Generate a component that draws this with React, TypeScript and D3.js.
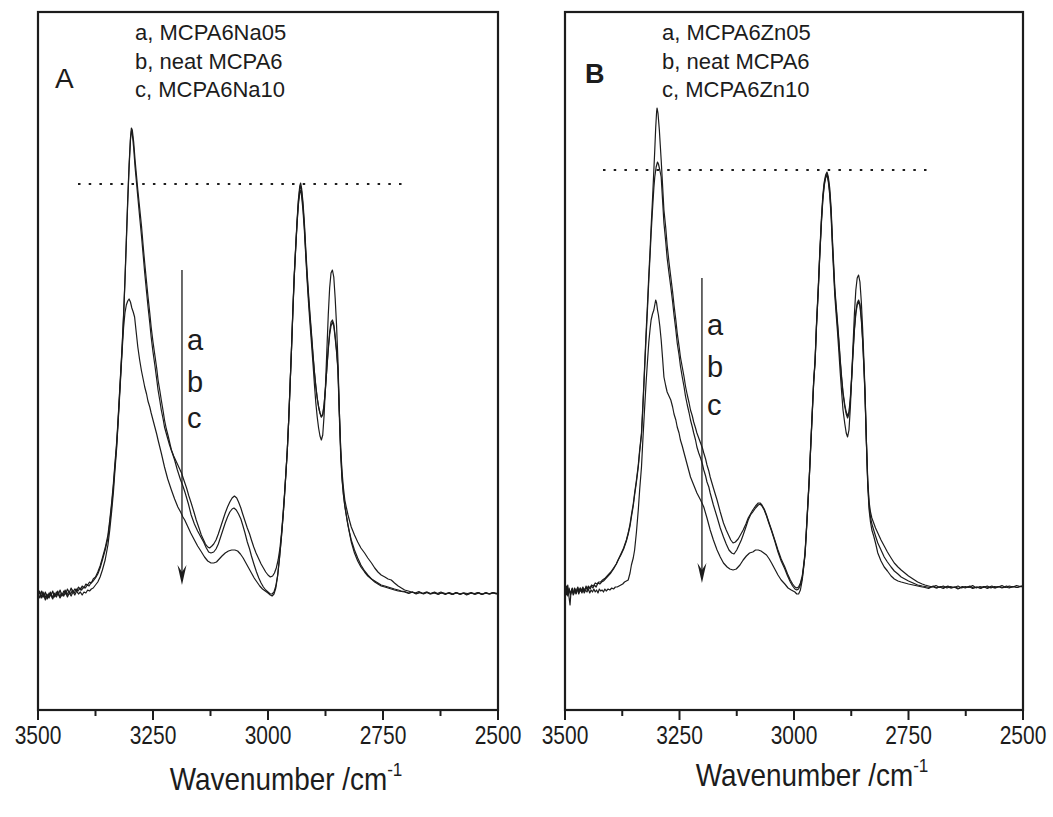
import React from 'react';
import * as d3 from 'd3';

type P = [number, number];

// ---------- data (wavenumber cm^-1, absorbance a.u.) ----------
const xTicksMajor = [3500, 3250, 3000, 2750, 2500];
const xTicksMinor = [3375, 3125, 2875, 2625];

const legendA = ['a, MCPA6Na05', 'b, neat MCPA6', 'c, MCPA6Na10'];
const legendB = ['a, MCPA6Zn05', 'b, neat MCPA6', 'c, MCPA6Zn10'];

const naA: P[] = [[3500,1.17],[3496,1.12],[3492,1.19],[3488,1.13],[3484,1.18],[3480,1.11],[3476,1.17],[3472,1.14],[3468,1.19],[3464,1.13],[3460,1.18],[3456,1.15],[3452,1.2],[3448,1.14],[3444,1.19],[3440,1.16],[3436,1.21],[3432,1.17],[3428,1.22],[3424,1.18],[3420,1.21],[3416,1.19],[3412,1.23],[3408,1.2],[3404,1.24],[3400,1.22],[3396,1.26],[3392,1.25],[3388,1.28],[3384,1.27],[3380,1.31],[3375,1.33],[3370,1.38],[3365,1.44],[3360,1.52],[3354,1.62],[3348,1.75],[3344,1.9],[3340,2.07],[3336,2.27],[3333,2.45],[3329,2.68],[3326,2.9],[3323,3.15],[3320,3.4],[3317,3.65],[3314,3.95],[3311,4.3],[3308,4.7],[3305,5.1],[3302,5.45],[3299,5.72],[3297,5.82],[3295,5.8],[3292,5.68],[3289,5.5],[3286,5.35],[3283,5.2],[3279,5.02],[3275,4.84],[3271,4.62],[3268,4.47],[3264,4.28],[3261,4.14],[3257,3.97],[3254,3.83],[3250,3.68],[3246,3.55],[3242,3.42],[3239,3.3],[3235,3.19],[3232,3.1],[3228,2.99],[3225,2.9],[3221,2.81],[3217,2.74],[3213,2.66],[3210,2.6],[3205,2.54],[3199,2.48],[3194,2.43],[3188,2.37],[3183,2.3],[3177,2.22],[3172,2.14],[3167,2.07],[3161,1.98],[3156,1.9],[3150,1.82],[3145,1.75],[3140,1.7],[3136,1.66],[3131,1.63],[3127,1.62],[3122,1.64],[3118,1.66],[3113,1.7],[3108,1.76],[3103,1.83],[3098,1.9],[3093,1.97],[3088,2.03],[3083,2.08],[3078,2.12],[3073,2.14],[3068,2.12],[3064,2.08],[3059,2.02],[3055,1.96],[3050,1.89],[3045,1.82],[3040,1.76],[3036,1.7],[3031,1.63],[3026,1.57],[3020,1.51],[3015,1.46],[3010,1.42],[3005,1.38],[3000,1.35],[2995,1.33],[2990,1.34],[2986,1.37],[2982,1.42],[2978,1.5],[2974,1.62],[2970,1.8],[2967,1.98],[2964,2.17],[2961,2.38],[2958,2.6],[2955,2.9],[2952,3.25],[2949,3.6],[2946,4.0],[2943,4.35],[2940,4.62],[2937,4.88],[2934,5.1],[2931,5.24],[2929,5.27],[2927,5.22],[2924,5.08],[2921,4.88],[2918,4.62],[2915,4.38],[2912,4.17],[2909,3.98],[2906,3.8],[2902,3.55],[2899,3.38],[2896,3.24],[2893,3.12],[2890,3.03],[2887,2.97],[2884,2.93],[2881,2.95],[2878,3.05],[2875,3.22],[2872,3.42],[2869,3.62],[2866,3.78],[2863,3.88],[2860,3.9],[2857,3.86],[2854,3.74],[2851,3.6],[2848,3.42],[2845,3.0],[2842,2.62],[2839,2.38],[2836,2.22],[2833,2.1],[2829,2.01],[2826,1.95],[2822,1.88],[2819,1.83],[2812,1.75],[2805,1.68],[2798,1.62],[2790,1.57],[2783,1.52],[2775,1.47],[2768,1.42],[2761,1.38],[2754,1.35],[2746,1.33],[2739,1.31],[2732,1.3],[2725,1.27],[2717,1.24],[2710,1.22],[2703,1.2],[2695,1.19],[2688,1.18],[2680,1.17],[2672,1.185],[2664,1.165],[2656,1.18],[2648,1.16],[2640,1.175],[2632,1.165],[2624,1.18],[2616,1.16],[2608,1.17],[2600,1.155],[2592,1.175],[2584,1.16],[2576,1.17],[2568,1.15],[2560,1.17],[2552,1.16],[2544,1.175],[2536,1.155],[2528,1.17],[2520,1.16],[2512,1.175],[2504,1.16],[2500,1.17]];

const neatA: P[] = [[3500,1.15],[3497,1.19],[3493,1.13],[3489,1.18],[3485,1.12],[3481,1.16],[3477,1.13],[3473,1.18],[3469,1.12],[3465,1.17],[3461,1.14],[3457,1.19],[3453,1.13],[3449,1.17],[3445,1.15],[3441,1.2],[3437,1.15],[3433,1.19],[3429,1.16],[3425,1.2],[3421,1.17],[3417,1.21],[3413,1.19],[3409,1.22],[3405,1.2],[3401,1.23],[3397,1.22],[3393,1.25],[3389,1.24],[3385,1.27],[3380,1.29],[3375,1.32],[3370,1.36],[3365,1.42],[3360,1.5],[3354,1.6],[3348,1.72],[3344,1.87],[3340,2.04],[3336,2.24],[3333,2.42],[3329,2.65],[3326,2.88],[3323,3.13],[3320,3.38],[3317,3.63],[3314,3.93],[3311,4.28],[3308,4.67],[3305,5.07],[3302,5.42],[3299,5.7],[3297,5.79],[3295,5.76],[3292,5.62],[3289,5.43],[3286,5.28],[3283,5.13],[3279,4.93],[3275,4.74],[3271,4.53],[3268,4.37],[3264,4.18],[3261,4.04],[3257,3.87],[3254,3.73],[3250,3.58],[3246,3.45],[3242,3.31],[3239,3.2],[3235,3.09],[3232,3.0],[3228,2.91],[3225,2.83],[3219,2.73],[3214,2.65],[3208,2.57],[3203,2.5],[3197,2.4],[3190,2.3],[3185,2.24],[3180,2.17],[3173,2.06],[3167,1.95],[3160,1.86],[3153,1.79],[3146,1.73],[3140,1.68],[3134,1.62],[3129,1.58],[3124,1.57],[3118,1.58],[3113,1.61],[3108,1.66],[3103,1.73],[3098,1.8],[3093,1.87],[3088,1.93],[3083,1.98],[3078,2.01],[3074,2.02],[3069,2.0],[3064,1.96],[3059,1.91],[3055,1.85],[3050,1.77],[3045,1.68],[3040,1.61],[3036,1.54],[3030,1.45],[3025,1.38],[3020,1.32],[3015,1.27],[3010,1.23],[3005,1.2],[3000,1.18],[2995,1.16],[2991,1.16],[2987,1.18],[2983,1.24],[2979,1.35],[2975,1.52],[2971,1.72],[2967,1.95],[2964,2.15],[2961,2.37],[2958,2.6],[2955,2.9],[2952,3.25],[2949,3.6],[2946,3.98],[2943,4.33],[2940,4.6],[2937,4.86],[2934,5.08],[2931,5.21],[2929,5.24],[2927,5.19],[2924,5.04],[2921,4.84],[2918,4.58],[2915,4.34],[2912,4.13],[2909,3.94],[2906,3.77],[2902,3.53],[2899,3.37],[2896,3.23],[2893,3.12],[2890,3.03],[2887,2.97],[2884,2.93],[2881,2.96],[2878,3.06],[2875,3.22],[2872,3.42],[2869,3.6],[2866,3.75],[2863,3.84],[2860,3.88],[2857,3.84],[2854,3.72],[2851,3.58],[2848,3.4],[2845,2.95],[2842,2.55],[2839,2.3],[2836,2.15],[2833,2.04],[2829,1.93],[2826,1.85],[2822,1.76],[2819,1.7],[2812,1.6],[2805,1.52],[2798,1.45],[2790,1.39],[2783,1.35],[2775,1.31],[2768,1.29],[2761,1.27],[2754,1.25],[2746,1.24],[2739,1.23],[2732,1.22],[2725,1.21],[2717,1.2],[2710,1.19],[2703,1.185],[2694,1.17],[2686,1.18],[2678,1.165],[2670,1.175],[2662,1.16],[2654,1.175],[2646,1.165],[2638,1.18],[2630,1.16],[2622,1.17],[2614,1.155],[2606,1.175],[2598,1.16],[2590,1.17],[2582,1.155],[2574,1.17],[2566,1.165],[2558,1.175],[2550,1.155],[2542,1.17],[2534,1.16],[2526,1.175],[2518,1.16],[2510,1.17],[2500,1.16]];

const naC: P[] = [[3500,1.14],[3496,1.18],[3492,1.12],[3488,1.16],[3484,1.1],[3480,1.15],[3476,1.12],[3472,1.17],[3468,1.11],[3464,1.16],[3460,1.13],[3456,1.17],[3452,1.12],[3448,1.16],[3444,1.14],[3440,1.18],[3436,1.13],[3432,1.17],[3428,1.14],[3424,1.18],[3420,1.15],[3416,1.19],[3412,1.16],[3408,1.18],[3404,1.15],[3400,1.18],[3396,1.17],[3392,1.2],[3388,1.19],[3384,1.21],[3380,1.22],[3375,1.25],[3370,1.28],[3365,1.33],[3360,1.4],[3354,1.5],[3348,1.65],[3344,1.8],[3340,1.98],[3336,2.18],[3333,2.38],[3329,2.62],[3326,2.86],[3323,3.1],[3320,3.35],[3317,3.6],[3314,3.82],[3311,3.97],[3308,4.05],[3305,4.09],[3302,4.11],[3299,4.08],[3296,4.02],[3293,3.98],[3290,3.93],[3287,3.8],[3283,3.63],[3279,3.5],[3275,3.39],[3271,3.3],[3268,3.23],[3264,3.16],[3261,3.09],[3257,3.03],[3254,2.97],[3250,2.9],[3246,2.83],[3242,2.76],[3239,2.7],[3232,2.57],[3225,2.43],[3218,2.31],[3210,2.2],[3203,2.11],[3196,2.03],[3190,1.98],[3185,1.93],[3181,1.9],[3175,1.84],[3168,1.77],[3160,1.7],[3153,1.64],[3146,1.59],[3138,1.53],[3131,1.49],[3124,1.47],[3118,1.47],[3112,1.48],[3106,1.51],[3100,1.54],[3093,1.57],[3086,1.59],[3079,1.6],[3072,1.6],[3066,1.59],[3060,1.56],[3054,1.52],[3048,1.47],[3042,1.42],[3036,1.37],[3030,1.32],[3024,1.28],[3018,1.24],[3012,1.21],[3006,1.19],[3000,1.17],[2995,1.15],[2991,1.14],[2987,1.16],[2983,1.22],[2979,1.34],[2975,1.52],[2971,1.72],[2967,1.95],[2964,2.15],[2961,2.37],[2958,2.6],[2955,2.9],[2952,3.24],[2949,3.6],[2946,3.97],[2943,4.32],[2940,4.6],[2937,4.85],[2934,5.05],[2931,5.17],[2929,5.2],[2927,5.14],[2924,5.0],[2921,4.8],[2918,4.55],[2915,4.3],[2912,4.08],[2909,3.88],[2906,3.7],[2902,3.45],[2899,3.25],[2896,3.07],[2893,2.93],[2890,2.82],[2887,2.74],[2884,2.7],[2881,2.75],[2878,2.95],[2875,3.25],[2872,3.6],[2869,3.95],[2866,4.22],[2863,4.37],[2860,4.4],[2857,4.33],[2854,4.12],[2851,3.85],[2848,3.5],[2845,3.0],[2842,2.6],[2839,2.32],[2836,2.16],[2833,2.04],[2829,1.92],[2826,1.84],[2822,1.75],[2819,1.68],[2812,1.57],[2805,1.49],[2798,1.43],[2790,1.38],[2783,1.34],[2775,1.31],[2768,1.28],[2761,1.26],[2754,1.24],[2746,1.23],[2739,1.22],[2732,1.21],[2725,1.2],[2717,1.19],[2710,1.185],[2703,1.18],[2694,1.165],[2686,1.18],[2678,1.16],[2670,1.175],[2662,1.165],[2654,1.18],[2646,1.16],[2638,1.17],[2630,1.155],[2622,1.175],[2614,1.165],[2606,1.17],[2598,1.155],[2590,1.175],[2582,1.16],[2574,1.17],[2566,1.155],[2558,1.17],[2550,1.165],[2542,1.175],[2534,1.155],[2526,1.17],[2518,1.16],[2510,1.175],[2500,1.165]];

const znA: P[] = [[3500,1.22],[3497,1.15],[3494,1.25],[3491,1.12],[3489,1.05],[3487,1.18],[3484,1.22],[3481,1.16],[3478,1.21],[3475,1.17],[3472,1.23],[3469,1.18],[3466,1.22],[3463,1.17],[3460,1.21],[3457,1.19],[3454,1.24],[3451,1.2],[3448,1.23],[3445,1.21],[3442,1.24],[3439,1.22],[3436,1.25],[3432,1.23],[3428,1.27],[3424,1.26],[3420,1.28],[3416,1.29],[3412,1.31],[3406,1.34],[3400,1.37],[3394,1.41],[3388,1.46],[3384,1.5],[3378,1.56],[3372,1.62],[3366,1.7],[3362,1.77],[3358,1.86],[3355,1.95],[3351,2.06],[3348,2.17],[3344,2.3],[3340,2.45],[3337,2.6],[3333,2.77],[3330,3.05],[3327,3.35],[3323,3.77],[3320,4.05],[3317,4.35],[3314,4.62],[3312,4.83],[3309,5.1],[3306,5.4],[3304,5.6],[3302,5.82],[3300,5.98],[3299,6.02],[3297,5.97],[3294,5.8],[3292,5.65],[3290,5.5],[3287,5.25],[3284,5.0],[3280,4.82],[3277,4.65],[3273,4.48],[3269,4.33],[3265,4.18],[3262,4.05],[3258,3.9],[3255,3.77],[3251,3.64],[3248,3.53],[3244,3.43],[3240,3.33],[3237,3.24],[3233,3.15],[3229,3.07],[3226,3.0],[3222,2.94],[3219,2.88],[3215,2.82],[3212,2.77],[3208,2.72],[3204,2.67],[3200,2.62],[3197,2.57],[3193,2.51],[3190,2.45],[3186,2.39],[3183,2.33],[3176,2.22],[3168,2.1],[3161,1.98],[3154,1.87],[3148,1.8],[3143,1.75],[3138,1.7],[3133,1.67],[3128,1.68],[3122,1.71],[3117,1.75],[3111,1.8],[3105,1.86],[3100,1.92],[3095,1.96],[3090,2.0],[3084,2.04],[3078,2.07],[3074,2.07],[3070,2.05],[3065,2.01],[3060,1.95],[3055,1.88],[3049,1.8],[3042,1.7],[3035,1.6],[3028,1.51],[3020,1.43],[3014,1.36],[3008,1.3],[3003,1.26],[2998,1.23],[2994,1.22],[2990,1.23],[2986,1.27],[2982,1.34],[2979,1.45],[2976,1.57],[2973,1.8],[2970,2.05],[2967,2.3],[2965,2.5],[2962,2.8],[2959,3.1],[2957,3.3],[2954,3.5],[2951,3.85],[2947,4.23],[2944,4.55],[2940,4.93],[2937,5.15],[2934,5.28],[2931,5.35],[2928,5.38],[2925,5.33],[2922,5.22],[2919,5.02],[2916,4.7],[2913,4.42],[2911,4.23],[2908,4.05],[2905,3.88],[2902,3.7],[2899,3.5],[2896,3.33],[2893,3.18],[2889,3.05],[2886,2.98],[2883,2.94],[2880,2.98],[2877,3.12],[2874,3.35],[2871,3.6],[2868,3.82],[2865,3.98],[2862,4.07],[2859,4.1],[2856,4.06],[2853,3.92],[2850,3.7],[2847,3.4],[2845,3.17],[2842,2.7],[2839,2.3],[2836,2.08],[2833,1.98],[2830,1.92],[2826,1.87],[2822,1.82],[2817,1.77],[2810,1.7],[2803,1.64],[2796,1.58],[2788,1.52],[2781,1.47],[2773,1.43],[2766,1.4],[2758,1.37],[2750,1.34],[2740,1.31],[2730,1.28],[2720,1.26],[2714,1.25],[2706,1.24],[2698,1.23],[2690,1.245],[2682,1.225],[2674,1.24],[2666,1.22],[2658,1.235],[2650,1.225],[2642,1.24],[2634,1.22],[2626,1.235],[2618,1.225],[2610,1.245],[2602,1.22],[2594,1.235],[2586,1.225],[2578,1.24],[2570,1.22],[2562,1.235],[2554,1.23],[2546,1.245],[2538,1.225],[2530,1.24],[2522,1.23],[2514,1.245],[2506,1.235],[2500,1.24]];

const neatB: P[] = [[3500,1.2],[3497,1.24],[3494,1.16],[3491,1.22],[3488,1.15],[3485,1.2],[3482,1.17],[3479,1.22],[3476,1.16],[3473,1.21],[3470,1.18],[3467,1.22],[3464,1.19],[3461,1.23],[3458,1.2],[3455,1.22],[3452,1.21],[3449,1.24],[3446,1.22],[3442,1.25],[3438,1.24],[3434,1.27],[3430,1.26],[3426,1.28],[3422,1.28],[3418,1.3],[3412,1.32],[3406,1.35],[3400,1.38],[3394,1.42],[3388,1.46],[3384,1.5],[3378,1.55],[3372,1.61],[3366,1.69],[3362,1.76],[3358,1.84],[3355,1.93],[3351,2.04],[3348,2.15],[3344,2.28],[3340,2.43],[3337,2.58],[3333,2.75],[3330,3.02],[3327,3.32],[3323,3.72],[3320,4.0],[3317,4.3],[3314,4.57],[3312,4.76],[3309,5.0],[3306,5.22],[3304,5.33],[3301,5.43],[3298,5.48],[3296,5.46],[3293,5.4],[3290,5.33],[3287,5.1],[3284,4.87],[3280,4.68],[3277,4.52],[3273,4.37],[3269,4.23],[3265,4.08],[3262,3.95],[3258,3.8],[3255,3.67],[3251,3.55],[3248,3.44],[3244,3.33],[3240,3.23],[3237,3.14],[3233,3.05],[3229,2.97],[3226,2.9],[3222,2.83],[3219,2.77],[3215,2.7],[3212,2.63],[3208,2.57],[3204,2.52],[3200,2.46],[3197,2.4],[3193,2.34],[3190,2.28],[3186,2.23],[3183,2.17],[3176,2.05],[3168,1.93],[3161,1.82],[3154,1.73],[3148,1.66],[3142,1.6],[3136,1.57],[3131,1.56],[3125,1.6],[3120,1.65],[3115,1.7],[3111,1.75],[3105,1.83],[3100,1.9],[3095,1.95],[3090,1.98],[3084,2.02],[3078,2.05],[3074,2.06],[3070,2.04],[3065,2.0],[3060,1.94],[3055,1.87],[3049,1.79],[3042,1.69],[3035,1.58],[3028,1.49],[3020,1.41],[3014,1.34],[3008,1.28],[3003,1.24],[2998,1.21],[2994,1.2],[2990,1.21],[2986,1.25],[2982,1.32],[2979,1.43],[2976,1.55],[2973,1.78],[2970,2.03],[2967,2.28],[2965,2.48],[2962,2.78],[2959,3.08],[2957,3.28],[2954,3.48],[2951,3.83],[2947,4.2],[2944,4.52],[2940,4.9],[2937,5.12],[2934,5.26],[2931,5.33],[2928,5.36],[2925,5.3],[2922,5.18],[2919,4.98],[2916,4.66],[2913,4.38],[2911,4.2],[2908,4.02],[2905,3.85],[2902,3.67],[2899,3.48],[2896,3.31],[2893,3.16],[2889,3.03],[2886,2.96],[2883,2.92],[2880,2.96],[2877,3.1],[2874,3.32],[2871,3.57],[2868,3.8],[2865,3.96],[2862,4.05],[2859,4.08],[2856,4.04],[2853,3.9],[2850,3.68],[2847,3.38],[2845,3.15],[2842,2.68],[2839,2.27],[2836,2.04],[2833,1.93],[2830,1.86],[2826,1.8],[2822,1.74],[2817,1.67],[2810,1.6],[2803,1.53],[2796,1.48],[2788,1.43],[2781,1.39],[2773,1.36],[2766,1.33],[2758,1.31],[2750,1.29],[2740,1.27],[2730,1.25],[2720,1.24],[2714,1.235],[2704,1.225],[2696,1.24],[2688,1.22],[2680,1.235],[2672,1.225],[2664,1.24],[2656,1.22],[2648,1.23],[2640,1.215],[2632,1.235],[2624,1.225],[2616,1.24],[2608,1.22],[2600,1.23],[2592,1.215],[2584,1.235],[2576,1.225],[2568,1.24],[2560,1.22],[2552,1.235],[2544,1.225],[2536,1.24],[2528,1.225],[2520,1.235],[2512,1.225],[2504,1.24],[2500,1.23]];

const znC: P[] = [[3500,1.18],[3497,1.22],[3494,1.14],[3491,1.2],[3488,1.16],[3485,1.21],[3482,1.15],[3479,1.2],[3476,1.17],[3473,1.22],[3470,1.16],[3467,1.2],[3464,1.18],[3461,1.21],[3458,1.17],[3455,1.2],[3452,1.18],[3449,1.21],[3446,1.17],[3443,1.2],[3440,1.18],[3437,1.21],[3434,1.18],[3431,1.2],[3428,1.17],[3425,1.21],[3422,1.19],[3419,1.2],[3416,1.18],[3413,1.21],[3410,1.19],[3406,1.21],[3402,1.2],[3398,1.22],[3394,1.21],[3390,1.23],[3386,1.23],[3382,1.24],[3378,1.25],[3374,1.26],[3370,1.28],[3366,1.29],[3362,1.3],[3358,1.37],[3355,1.45],[3351,1.52],[3348,1.6],[3344,1.78],[3340,2.0],[3337,2.2],[3333,2.43],[3330,2.7],[3327,2.95],[3323,3.27],[3320,3.48],[3317,3.68],[3314,3.82],[3312,3.9],[3309,3.96],[3306,4.0],[3304,4.05],[3302,4.1],[3300,4.07],[3298,4.0],[3296,3.95],[3293,3.84],[3290,3.7],[3287,3.52],[3284,3.33],[3280,3.24],[3277,3.18],[3273,3.14],[3269,3.1],[3265,3.03],[3262,2.96],[3258,2.9],[3255,2.83],[3251,2.77],[3248,2.7],[3244,2.64],[3240,2.57],[3233,2.45],[3226,2.33],[3219,2.25],[3212,2.17],[3204,2.1],[3197,2.03],[3190,1.92],[3183,1.8],[3176,1.7],[3168,1.6],[3161,1.53],[3154,1.47],[3146,1.43],[3140,1.41],[3133,1.4],[3126,1.41],[3118,1.45],[3111,1.5],[3104,1.54],[3097,1.57],[3090,1.58],[3084,1.6],[3078,1.6],[3072,1.59],[3066,1.57],[3060,1.55],[3054,1.51],[3049,1.47],[3042,1.41],[3035,1.35],[3028,1.3],[3020,1.26],[3013,1.22],[3006,1.2],[2998,1.18],[2994,1.16],[2990,1.16],[2986,1.2],[2982,1.3],[2979,1.42],[2976,1.55],[2973,1.78],[2970,2.03],[2967,2.28],[2965,2.48],[2962,2.78],[2959,3.08],[2957,3.28],[2954,3.48],[2951,3.82],[2947,4.2],[2944,4.52],[2940,4.88],[2937,5.1],[2934,5.24],[2931,5.32],[2928,5.35],[2925,5.28],[2922,5.15],[2919,4.94],[2916,4.62],[2913,4.34],[2911,4.15],[2908,3.96],[2905,3.78],[2902,3.58],[2899,3.37],[2896,3.18],[2893,3.0],[2889,2.86],[2886,2.77],[2883,2.73],[2880,2.8],[2877,3.02],[2874,3.33],[2871,3.66],[2868,3.97],[2865,4.2],[2862,4.32],[2859,4.35],[2856,4.28],[2853,4.08],[2850,3.8],[2847,3.45],[2845,3.2],[2842,2.7],[2839,2.25],[2836,2.0],[2833,1.88],[2830,1.8],[2826,1.74],[2822,1.67],[2817,1.57],[2810,1.49],[2803,1.43],[2796,1.39],[2788,1.34],[2781,1.31],[2773,1.29],[2766,1.28],[2758,1.27],[2750,1.26],[2740,1.25],[2730,1.24],[2720,1.23],[2714,1.225],[2706,1.215],[2698,1.235],[2690,1.22],[2682,1.23],[2674,1.215],[2666,1.235],[2658,1.22],[2650,1.23],[2642,1.21],[2634,1.23],[2626,1.22],[2618,1.235],[2610,1.215],[2602,1.23],[2594,1.22],[2586,1.235],[2578,1.215],[2570,1.23],[2562,1.22],[2554,1.235],[2546,1.22],[2538,1.23],[2530,1.22],[2522,1.235],[2514,1.225],[2506,1.235],[2500,1.23]];

// reference (dotted) line and arrow, in data units
const dottedA = { from: 3413, to: 2707, level: 5.26 };
const dottedB = { from: 3417, to: 2707, level: 5.4 };
const arrowA = { at: 3187, from: 4.4, to: 1.25 };
const arrowB = { at: 3201, from: 4.32, to: 1.27 };

const FONT = '"Liberation Sans", Arial, Helvetica, sans-serif';
const INK = '#1c1c1c';

const TOP = 12;
const BOTTOM = 710;

type PanelProps = {
  left: number;
  right: number;
  letter: string;
  bold: boolean;
  letterDx: number;
  letterY: number;
  legend: string[];
  series: P[][];
  dotted: { from: number; to: number; level: number };
  arrow: { at: number; from: number; to: number };
  abcY: number[];
  titleY: number;
};

function Panel(p: PanelProps) {
  const x = d3.scaleLinear().domain([3500, 2500]).range([p.left, p.right]);
  const y = d3.scaleLinear().domain([0, 6.98]).range([BOTTOM, TOP]);
  const line = d3
    .line<P>()
    .x((d) => x(d[0]))
    .y((d) => y(d[1]))
    .curve(d3.curveLinear);
  const ax = x(p.arrow.at);
  const ay1 = y(p.arrow.from);
  const ay2 = y(p.arrow.to);
  const cx = (p.left + p.right) / 2;
  return (
    <g>
      {p.series.map((s, i) => (
        <path key={i} d={line(s) || ''} fill="none" stroke={INK} strokeWidth={1.2} strokeLinejoin="round" />
      ))}
      <line
        x1={x(p.dotted.from)}
        x2={x(p.dotted.to)}
        y1={y(p.dotted.level)}
        y2={y(p.dotted.level)}
        stroke={INK}
        strokeWidth={2}
        strokeDasharray="2.5 8.2"
      />
      <line x1={ax} x2={ax} y1={ay1} y2={ay2 - 10} stroke={INK} strokeWidth={1.3} />
      <path
        d={`M${ax},${ay2} L${ax - 4.5},${ay2 - 20} L${ax},${ay2 - 13} L${ax + 4.5},${ay2 - 20} Z`}
        fill={INK}
      />
      {['a', 'b', 'c'].map((t, i) => (
        <text key={t} x={ax + 5} y={p.abcY[i]} fontFamily={FONT} fontSize={29} fill={INK}>
          {t}
        </text>
      ))}
      {p.legend.map((t, i) => (
        <text key={t} x={p.left + 97} y={40 + i * 28.5} fontFamily={FONT} fontSize={22} fill={INK}>
          {t}
        </text>
      ))}
      <text
        x={p.left + p.letterDx}
        y={p.letterY}
        fontFamily={FONT}
        fontSize={p.bold ? 27 : 28}
        fontWeight={p.bold ? 'bold' : 'normal'}
        fill={INK}
      >
        {p.letter}
      </text>
      <rect x={p.left} y={TOP} width={p.right - p.left} height={BOTTOM - TOP} fill="none" stroke={INK} strokeWidth={2.2} />
      {xTicksMajor.map((t) => (
        <g key={t}>
          <line x1={x(t)} x2={x(t)} y1={BOTTOM} y2={BOTTOM + 10} stroke={INK} strokeWidth={2} />
          <text
            transform={`translate(${x(t)},${BOTTOM + 34}) scale(0.84,1)`}
            textAnchor="middle"
            fontFamily={FONT}
            fontSize={25}
            fill={INK}
          >
            {t}
          </text>
        </g>
      ))}
      {xTicksMinor.map((t) => (
        <line key={t} x1={x(t)} x2={x(t)} y1={BOTTOM} y2={BOTTOM + 6} stroke={INK} strokeWidth={2} />
      ))}
      <text
        transform={`translate(${cx + 18},${p.titleY}) scale(0.9,1)`}
        textAnchor="middle"
        fontFamily={FONT}
        fontSize={31}
        fill={INK}
      >
        Wavenumber /cm
        <tspan dy={-14} fontSize={19}>
          -1
        </tspan>
      </text>
    </g>
  );
}

export default function App() {
  return (
    <svg
      width={1053}
      height={817}
      viewBox="0 0 1053 817"
      style={{ position: 'absolute', left: 0, top: 0, background: '#fff' }}
    >
      <rect width={1053} height={817} fill="#fff" />
      <Panel
        left={38}
        right={498}
        letter="A"
        bold={false}
        letterDx={17}
        letterY={88}
        legend={legendA}
        series={[naA, neatA, naC]}
        dotted={dottedA}
        arrow={arrowA}
        abcY={[350, 392, 428]}
        titleY={790}
      />
      <Panel
        left={565}
        right={1023}
        letter="B"
        bold={true}
        letterDx={20}
        letterY={83}
        legend={legendB}
        series={[znA, neatB, znC]}
        dotted={dottedB}
        arrow={arrowB}
        abcY={[335, 377, 415]}
        titleY={786}
      />
    </svg>
  );
}
